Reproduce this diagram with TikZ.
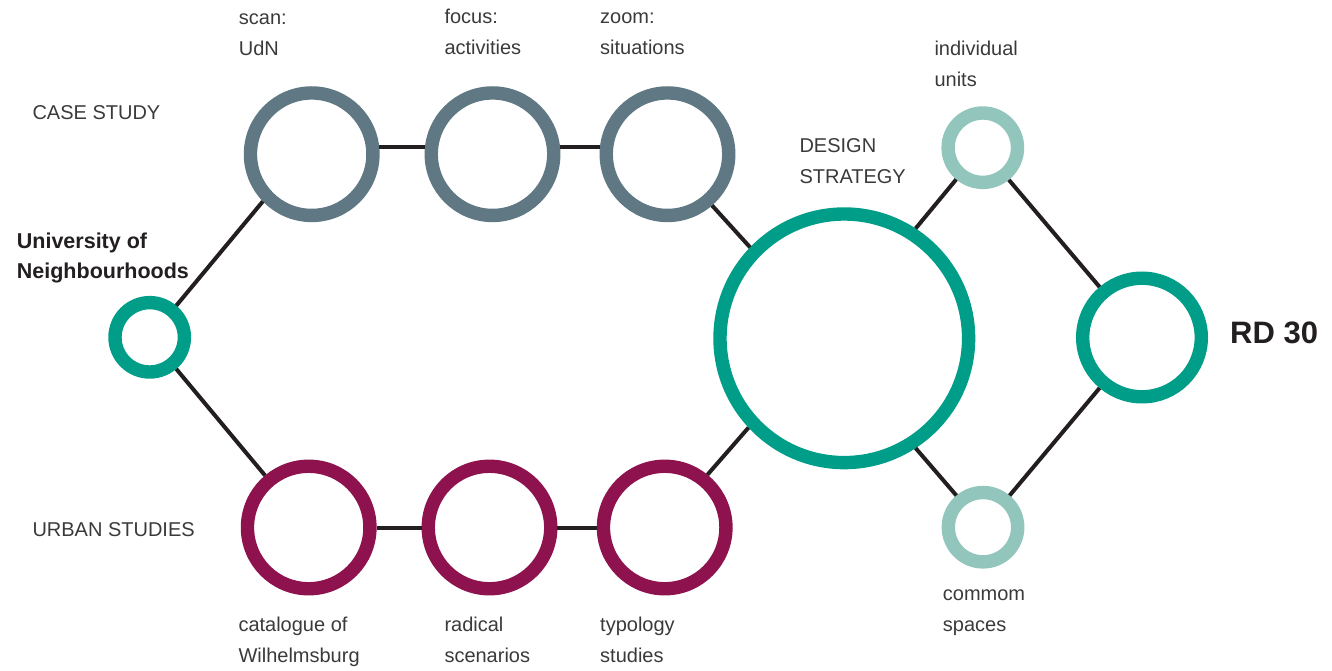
\documentclass[tikz,border=0pt]{standalone}
\usepackage{fontspec}
\setmainfont{Liberation Sans}
\definecolor{slate}{HTML}{5F7883}
\definecolor{wine}{HTML}{8E124D}
\definecolor{jade}{HTML}{009E88}
\definecolor{mint}{HTML}{92C6BC}
\definecolor{ink}{HTML}{231F20}
\definecolor{txt}{HTML}{3A3A3A}
\begin{document}
\begin{tikzpicture}[x=1pt,y=-1pt,
  ring/.style={circle,draw,fill=white,line width=13.4pt,inner sep=0pt},
  smallring/.style={ring,minimum size=69.4pt},
  midring/.style={ring,minimum size=122.5pt},
  link/.style={draw=ink,line width=4pt},
  lbl/.style={anchor=base west,inner sep=0pt,align=left,text=txt,
    font=\fontsize{20}{31}\selectfont},
  boldlbl/.style={anchor=base west,inner sep=0pt,align=left,text=ink,
    font=\fontsize{21.5}{30}\selectfont\bfseries}]
\useasboundingbox (0,0) rectangle (1332,671);

% ring centres
\coordinate (pUni) at (149.7,337.3);
\coordinate (pCs1) at (311.7,154.2);
\coordinate (pCs2) at (492.5,154.2);
\coordinate (pCs3) at (667.5,154.2);
\coordinate (pUs1) at (308.7,527.5);
\coordinate (pUs2) at (489.5,527.5);
\coordinate (pUs3) at (664.7,527.5);
\coordinate (pBig) at (844.3,338.3);
\coordinate (pTu) at (982.8,147.7);
\coordinate (pTb) at (983.0,527.2);
\coordinate (pRd) at (1142.0,337.5);

% rings
\node[smallring,draw=jade] (uni) at (pUni) {};
\node[midring,draw=slate] (cs1) at (pCs1) {};
\node[midring,draw=slate] (cs2) at (pCs2) {};
\node[midring,draw=slate] (cs3) at (pCs3) {};
\node[midring,draw=wine] (us1) at (pUs1) {};
\node[midring,draw=wine] (us2) at (pUs2) {};
\node[midring,draw=wine] (us3) at (pUs3) {};
\node[ring,draw=jade,minimum size=248.6pt] (big) at (pBig) {};
\node[smallring,draw=mint] (tu) at (pTu) {};
\node[smallring,draw=mint] (tb) at (pTb) {};
\node[ring,draw=jade,minimum size=118.6pt] (rd) at (pRd) {};

% connectors, edge to edge
\path[link] (uni.50) -- (cs1.224);
\path[link] (uni.310) -- (us1.130);
\path[link] (cs1.6) -- (cs2.174);
\path[link] (cs2.6) -- (cs3.174);
\path[link] (us1.east) -- (us2.west);
\path[link] (us2.east) -- (us3.west);
\path[link] (cs3.311) -- (big.136);
\path[link] (us3.51) -- (big.223);
\path[link] (big.57) -- (tu.230);
\path[link] (big.303) -- (tb.130);
\path[link] (tu.309) -- (rd.130);
\path[link] (tb.50) -- (rd.230);

% labels (anchored on the baseline of their last line)
\node[lbl] (lScan) at (238.7,55.5) {scan:\\UdN};
\node[lbl] (lFocus) at (444.3,55.0) {focus:\\activities};
\node[lbl] (lZoom) at (600.0,55.0) {zoom:\\situations};
\node[lbl] (lCase) at (32.3,120.0) {CASE STUDY};
\node[lbl] (lUrban) at (32.3,536.0) {URBAN STUDIES};
\node[boldlbl] (lUni) at (16.7,278.3) {University of\\Neighbourhoods};
\node[lbl] (lDesign) at (799.3,183.3) {DESIGN\\STRATEGY};
\node[lbl] (lInd) at (934.3,86.7) {individual\\units};
\node[lbl] (lCom) at (942.7,631.7) {commom\\spaces};
\node[lbl] (lCat) at (238.3,662.7) {catalogue of\\Wilhelmsburg};
\node[lbl] (lRad) at (444.3,662.7) {radical\\scenarios};
\node[lbl] (lTyp) at (600.0,662.7) {typology\\studies};
\node[anchor=base west,inner sep=0pt,text=ink,
  font=\fontsize{31}{36}\selectfont\bfseries] (lRd) at (1230,343.3) {RD 30};
\end{tikzpicture}
\end{document}
